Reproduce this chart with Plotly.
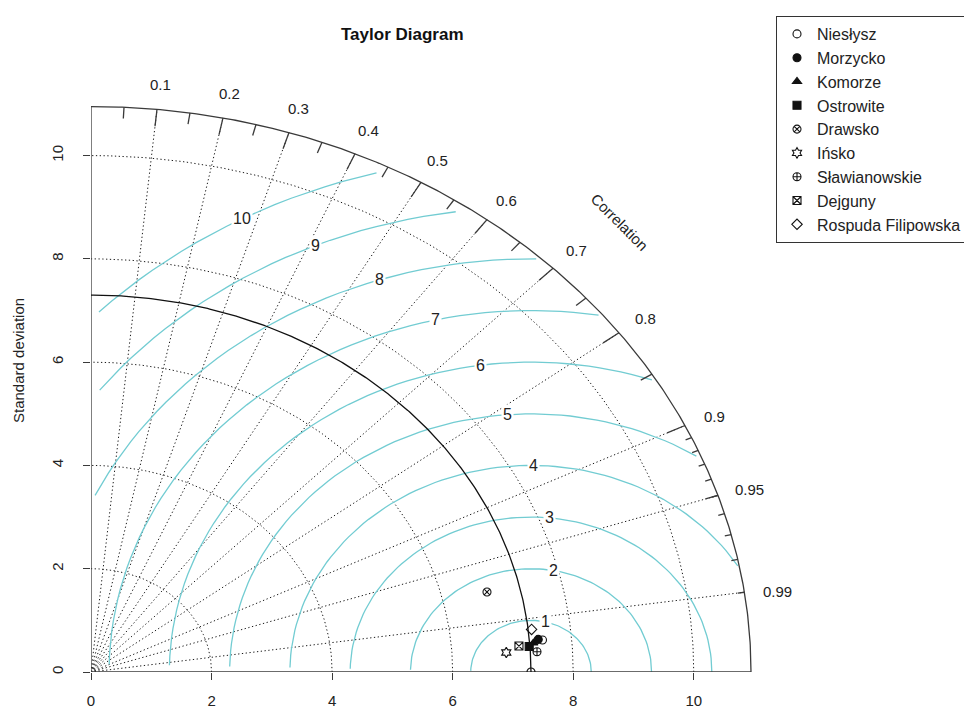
import numpy as np
import plotly.graph_objects as go

# ---------------- data ----------------
station_names = ["Niesłysz", "Morzycko", "Komorze", "Ostrowite", "Drawsko",
                 "Ińsko", "Sławianowskie", "Dejguny", "Rospuda Filipowska"]
station_sd = [7.516, 7.447, 7.361, 7.287, 6.750, 6.900, 7.410, 7.118, 7.356]
station_corr = [0.9966, 0.9964, 0.9971, 0.9977, 0.9733, 0.9985, 0.9986, 0.9975, 0.9937]
station_symbols = ["circle-open", "circle", "triangle-up", "square", "circle-x-open",
                   "hexagram-open", "circle-cross-open", "square-x-open", "diamond-open"]
reference_sd = 7.3
sd_ticks = [0, 2, 4, 6, 8, 10]
rms_levels = [1, 2, 3, 4, 5, 6, 7, 8, 9, 10]
corr_grid = [0.1, 0.2, 0.3, 0.4, 0.5, 0.6, 0.7, 0.8, 0.9, 0.95, 0.99]
corr_big_ticks = [0.1, 0.2, 0.3, 0.4, 0.5, 0.6, 0.7, 0.8, 0.9]
corr_med_ticks = [0.05, 0.15, 0.25, 0.35, 0.45, 0.55, 0.65, 0.75, 0.85, 0.95]
corr_small_ticks = [0.91, 0.92, 0.93, 0.94, 0.95, 0.96, 0.97, 0.98, 0.99]
corr_labels = ["0.1", "0.2", "0.3", "0.4", "0.5", "0.6", "0.7", "0.8", "0.9", "0.95", "0.99"]

maxsd = 1.5 * reference_sd
axis_max = 1.1 * maxsd
FONT = "Arial, Liberation Sans, sans-serif"
GAMMA_COL = "#72ccd2"
DARK = "#3a3a3a"

# the page body adds an 8px offset; figure coords = screen coords - 8
OFF = 8
W, H = 972 - OFF, 711 - OFF
L = 91 - OFF
PLOT_RIGHT = 817 - OFF
PLOT_TOP = 50 - OFF
PLOT_BOTTOM = 672 - OFF
R = W - PLOT_RIGHT
T = PLOT_TOP
B = H - PLOT_BOTTOM
PW, PH = W - L - R, H - T - B


def sx(px):  # screen x -> paper
    return (px - OFF - L) / PW


def sy(py):  # screen y -> paper
    return (PLOT_BOTTOM - (py - OFF)) / PH


fig = go.Figure()


def seg_trace(xs, ys, color, width=1, dash=None):
    fig.add_trace(go.Scatter(x=xs, y=ys, mode="lines", hoverinfo="skip", showlegend=False,
                             line=dict(color=color, width=width, dash=dash)))


# dotted correlation rays
xs, ys = [], []
for c in corr_grid:
    xs += [0, maxsd * c, None]
    ys += [0, maxsd * np.sqrt(1 - c * c), None]
seg_trace(xs, ys, "#1a1a1a", 1, "1.3px,2.5px")

# dotted sd arcs
t = np.linspace(0, np.pi / 2, 200)
xs, ys = [], []
for s in sd_ticks[1:]:
    xs += list(np.cos(t) * s) + [None]
    ys += list(np.sin(t) * s) + [None]
seg_trace(xs, ys, "#1a1a1a", 1, "1.3px,2.5px")

# centred RMS difference curves (same clipping as plotrix)
ang = np.arange(0, np.pi, 0.03)
gamma_label_pos = np.linspace(45, 70, len(rms_levels))
for gi, g in enumerate(rms_levels):
    xc = np.cos(ang) * g + reference_sd
    yc = np.sin(ang) * g
    neg = np.where(xc < 0)[0]
    end = neg.min() if len(neg) else len(ang)
    out = np.where(xc * xc + yc * yc > maxsd * maxsd)[0]
    start = out.max() + 1 if len(out) else 0
    seg_trace(list(xc[start:end]), list(yc[start:end]), GAMMA_COL, 1.3)

# axes segments
seg_trace([0, 0, None, 0, maxsd], [0, maxsd, None, 0, 0], DARK, 1.3)

# outer arc
to = np.linspace(0, np.pi / 2, 300)
seg_trace(list(np.cos(to) * maxsd), list(np.sin(to) * maxsd), DARK, 1.3)

# correlation ticks on outer arc
xs, ys = [], []
for vals, frac in ((corr_big_ticks, 0.97), (corr_med_ticks, 0.98), (corr_small_ticks, 0.99)):
    for c in vals:
        a = np.arccos(c)
        xs += [np.cos(a) * maxsd, np.cos(a) * frac * maxsd, None]
        ys += [np.sin(a) * maxsd, np.sin(a) * frac * maxsd, None]
seg_trace(xs, ys, DARK, 1.3)

# reference sd arc
seg_trace(list(np.cos(to) * reference_sd), list(np.sin(to) * reference_sd), "#111", 1.3)

# reference point
fig.add_trace(go.Scatter(x=[reference_sd], y=[0], mode="markers", showlegend=False, hoverinfo="skip",
                         marker=dict(symbol="circle-open", size=8, color="#111", line=dict(width=1.2))))

# model points
for i, name in enumerate(station_names):
    a = np.arccos(station_corr[i])
    fig.add_trace(go.Scatter(
        x=[station_sd[i] * np.cos(a)], y=[station_sd[i] * np.sin(a)],
        mode="markers", name=name,
        marker=dict(symbol=station_symbols[i], size=8, color="#111", line=dict(width=1.1, color="#111"))))

annotations = []
# gamma labels
for gi, g in enumerate(rms_levels):
    idx = int(gamma_label_pos[gi]) - 1
    xl = np.cos(ang[idx]) * g + reference_sd
    yl = np.sin(ang[idx]) * g
    if xl > 0:
        annotations.append(dict(x=xl, y=yl, xref="x", yref="y", text=str(g), showarrow=False,
                                bgcolor="white", font=dict(size=16, color="#222", family=FONT),
                                borderpad=1))
# correlation labels
for c, lab in zip(corr_grid, corr_labels):
    a = np.arccos(c)
    annotations.append(dict(x=np.cos(a) * 1.05 * maxsd, y=np.sin(a) * 1.05 * maxsd, xref="x", yref="y",
                            text=lab, showarrow=False, yshift=-3,
                            font=dict(size=15, color="#222", family=FONT)))
annotations.append(dict(x=maxsd * 0.8, y=maxsd * 0.8, xref="x", yref="y", text="Correlation",
                        showarrow=False, textangle=45, yshift=-2,
                        font=dict(size=15, color="#222", family=FONT)))
annotations.append(dict(x=sx(18), y=sy(361), xref="paper", yref="paper",
                        text="Standard deviation", xanchor="center", yanchor="middle",
                        showarrow=False, textangle=-90, font=dict(size=15, color="#222", family=FONT)))
annotations.append(dict(x=sx(402), y=sy(35), xref="paper", yref="paper",
                        text="<b>Taylor Diagram</b>", xanchor="center", yanchor="middle",
                        showarrow=False, font=dict(size=17, color="#111", family=FONT)))

axis_common = dict(range=[0, axis_max], showgrid=False, zeroline=False, showline=False,
                   tickmode="array", tickvals=sd_ticks, ticktext=[str(v) for v in sd_ticks],
                   ticks="outside", ticklen=7, tickwidth=1.2, tickcolor=DARK, automargin=False,
                   tickfont=dict(size=15, color="#222", family=FONT), fixedrange=True)

fig.update_layout(
    width=W, height=H,
    margin=dict(l=L, r=R, t=T, b=B, autoexpand=False),
    paper_bgcolor="white", plot_bgcolor="white",
    xaxis=dict(**axis_common, ticklabelstandoff=8),
    yaxis=dict(**axis_common, tickangle=-90, ticklabelstandoff=14),
    annotations=annotations,
    showlegend=True,
    legend=dict(x=(967 - OFF) / W, y=1 - (16 - OFF) / H, xref="container", yref="container",
                xanchor="right", yanchor="top",
                bordercolor="#333", borderwidth=1, bgcolor="white",
                font=dict(size=16, color="#222", family=FONT),
                itemwidth=30),
)

fig.write_html("out.html")
